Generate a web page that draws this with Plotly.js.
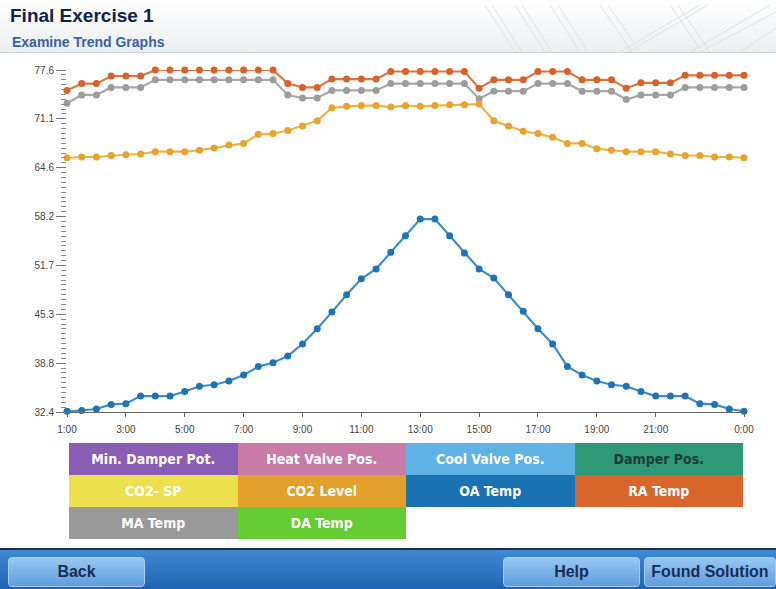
<!DOCTYPE html>
<html><head><meta charset="utf-8">
<script src="https://cdn.plot.ly/plotly-3.0.1.min.js"></script>
<style>
html,body{margin:0;padding:0;width:776px;height:589px;overflow:hidden;background:#fff;font-family:"Liberation Sans",Arial,sans-serif;}
#chart{position:absolute;left:0;top:0;width:776px;height:589px;}
#header{position:absolute;left:0;top:0;width:776px;height:52px;background:linear-gradient(#ffffff,#eceef0);border-bottom:1px solid #cfd2d6;overflow:hidden;}
#deco{position:absolute;left:440px;top:0;}
#t1{position:absolute;left:10px;top:5px;font-size:19px;font-weight:bold;color:#0f2250;}
#t2{position:absolute;left:12px;top:34px;font-size:14px;font-weight:bold;color:#3b62a0;}
#legend{position:absolute;left:69px;top:443px;width:674px;display:grid;grid-template-columns:repeat(4,1fr);grid-template-rows:repeat(3,32px);}
.lg{display:flex;align-items:center;justify-content:center;color:#fff;font-family:"DejaVu Sans Condensed","Liberation Sans",sans-serif;font-weight:bold;font-size:14px;}
#bar{position:absolute;left:0;top:548px;width:776px;height:41px;background:linear-gradient(#4189d2,#1d62b2);border-top:2px solid #1b2f4f;}
.btn{position:absolute;top:7px;height:30px;border-radius:4px;background:linear-gradient(#97c8f0,#5e9de0);border:1px solid #a8cfee;color:#1b2d55;font-weight:bold;font-size:16px;display:flex;align-items:center;justify-content:center;font-family:"Liberation Sans",sans-serif;box-sizing:border-box;}
</style></head>
<body>
<div id="chart"></div>
<div id="header">
  <svg id="deco" width="336" height="52">
    <g stroke="#dfe1e4" stroke-width="1" fill="none">
      <line x1="45" y1="5" x2="75" y2="52"/><line x1="52" y1="5" x2="82" y2="52"/>
      <line x1="75" y1="5" x2="105" y2="52"/><line x1="82" y1="5" x2="112" y2="52"/>
      <line x1="110" y1="5" x2="140" y2="52"/><line x1="118" y1="5" x2="148" y2="52"/>
      <line x1="160" y1="5" x2="192" y2="52"/><line x1="168" y1="5" x2="200" y2="52"/>
      <line x1="180" y1="52" x2="260" y2="5"/><line x1="188" y1="52" x2="268" y2="5"/>
      <line x1="230" y1="5" x2="262" y2="52"/><line x1="238" y1="5" x2="270" y2="52"/>
      <line x1="250" y1="52" x2="330" y2="5"/><line x1="260" y1="52" x2="336" y2="12"/>
      <line x1="300" y1="52" x2="336" y2="28"/>
    </g>
  </svg>
  <div id="t1">Final Exercise 1</div>
  <div id="t2">Examine Trend Graphs</div>
</div>
<div id="legend"></div>
<div id="bar">
  <div class="btn" style="left:8px;width:137px;">Back</div>
  <div class="btn" style="left:503px;width:137px;">Help</div>
  <div class="btn" style="left:644px;width:132px;">Found Solution</div>
</div>
<script>
// ---- data ----
var hours = [1,1.5,2,2.5,3,3.5,4,4.5,5,5.5,6,6.5,7,7.5,8,8.5,9,9.5,10,10.5,11,11.5,12,12.5,13,13.5,14,14.5,15,15.5,16,16.5,17,17.5,18,18.5,19,19.5,20,20.5,21,21.5,22,22.5,23,23.5,24];
var raTemp = [74.9,75.8,75.8,76.8,76.8,76.8,77.6,77.6,77.6,77.6,77.6,77.6,77.6,77.6,77.6,75.8,75.3,75.3,76.4,76.4,76.4,76.4,77.4,77.4,77.4,77.4,77.4,77.4,75.2,76.3,76.3,76.3,77.4,77.4,77.4,76.3,76.3,76.3,75.2,75.9,75.9,75.9,76.9,76.9,76.9,76.9,76.9];
var maTemp = [73.2,74.3,74.3,75.3,75.3,75.3,76.3,76.3,76.3,76.3,76.3,76.3,76.3,76.3,76.3,74.3,73.9,73.9,74.9,74.9,74.9,74.9,75.8,75.8,75.8,75.8,75.8,75.8,73.8,74.8,74.8,74.8,75.8,75.8,75.8,74.8,74.8,74.8,73.7,74.3,74.3,74.3,75.3,75.3,75.3,75.3,75.3];
var co2Level = [66.0,66.1,66.1,66.3,66.4,66.5,66.8,66.8,66.8,67.0,67.3,67.7,67.9,69.1,69.2,69.6,70.2,70.9,72.6,72.8,72.9,72.9,72.7,72.9,72.8,72.9,73.0,73.0,73.1,70.9,70.2,69.5,69.2,68.7,67.9,67.9,67.2,67.0,66.8,66.8,66.8,66.5,66.3,66.3,66.1,66.1,66.0];
var oaTemp = [32.5,32.6,32.8,33.4,33.5,34.5,34.5,34.5,35.1,35.8,36.0,36.5,37.3,38.4,38.9,39.8,41.4,43.4,45.6,47.9,50.0,51.3,53.5,55.7,57.9,57.9,55.7,53.4,51.3,50.1,47.9,45.7,43.4,41.4,38.4,37.3,36.5,36.0,35.8,35.1,34.5,34.5,34.5,33.5,33.4,32.8,32.5];
var xTickVals = [1,3,5,7,9,11,13,15,17,19,21,24];
var xTickText = ['1:00','3:00','5:00','7:00','9:00','11:00','13:00','15:00','17:00','19:00','21:00','0:00'];
var yTickVals = [32.4,38.857,45.314,51.771,58.229,64.686,71.143,77.6];
var yTickText = ['32.4','38.8','45.3','51.7','58.2','64.6','71.1','77.6'];
var legendNames = ['Min. Damper Pot.','Heat Valve Pos.','Cool Valve Pos.','Damper Pos.','CO2- SP','CO2 Level','OA Temp','RA Temp','MA Temp','DA Temp'];
var legendColors = ['#8a5db4','#c97ba8','#5fb2e4','#2e9976','#ece04e','#e4a02c','#1a72b2','#d8662a','#999999','#66cc33'];
var legendTextColors = ['#fff','#fff','#fff','#1f3b36','#fff','#fff','#fff','#fff','#fff','#fff'];

// ---- legend ----
var lg = document.getElementById('legend');
legendNames.forEach(function(n,i){
  var d = document.createElement('div');
  d.className='lg'; d.textContent=n;
  d.style.background=legendColors[i]; d.style.color=legendTextColors[i];
  lg.appendChild(d);
});

// ---- chart ----
function tr(name, y, lineC, markC){
  return {x:hours, y:y, name:name, type:'scatter', mode:'lines+markers', cliponaxis:false,
    line:{color:lineC, width:2.2}, marker:{color:markC, size:7}, hoverinfo:'x+y'};
}
var data = [
  tr('MA Temp', maTemp, '#a8a8a8', '#9c9c9c'),
  tr('RA Temp', raTemp, '#e0763c', '#d8622a'),
  tr('CO2 Level', co2Level, '#efb445', '#e8a22e'),
  tr('OA Temp', oaTemp, '#3f8dc8', '#1f74b6')
];
var layout = {
  width:776, height:589, showlegend:false,
  paper_bgcolor:'rgba(0,0,0,0)', plot_bgcolor:'rgba(0,0,0,0)',
  margin:{l:67, r:32, t:69.5, b:176.7},
  font:{family:'"Liberation Sans", Arial, sans-serif', size:10, color:'#444'},
  xaxis:{range:[1,24], tickmode:'array', tickvals:xTickVals, ticktext:xTickText,
    showgrid:false, zeroline:false, showline:true, linecolor:'#666', linewidth:1,
    ticks:'outside', ticklen:4, tickcolor:'#666', ticklabelstandoff:4, tickfont:{size:10, color:'#444'}},
  yaxis:{range:[32.4,77.6], tickmode:'array', tickvals:yTickVals, ticktext:yTickText,
    showgrid:false, zeroline:false, showline:false,
    ticks:'outside', ticklen:10, tickcolor:'#777', tickwidth:1, tickfont:{size:10, color:'#444'},
    minor:{tickmode:'linear', tick0:32.4, dtick:0.6457, ticks:'outside', ticklen:5, tickcolor:'#888', tickwidth:1, showgrid:false}}
};
Plotly.newPlot('chart', data, layout, {displayModeBar:false, staticPlot:true});
</script>
</body></html>
